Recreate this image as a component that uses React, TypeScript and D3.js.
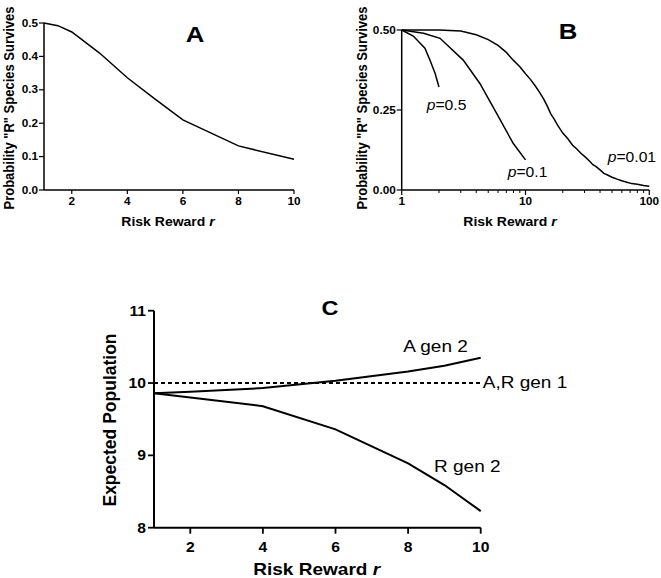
import React from "react";
import * as d3 from "d3";

// Panel A data
const rA = [1, 1.5, 2, 3, 4, 5, 6, 8, 10];
const probA = [0.5, 0.492, 0.473, 0.41, 0.336, 0.272, 0.21, 0.132, 0.092];
const ticksAx = [2, 4, 6, 8, 10];
const ticksAy = [0, 0.1, 0.2, 0.3, 0.4, 0.5];

// Panel B data
const rB05 = [1, 1.24, 1.54, 1.69, 1.86, 2];
const probB05 = [0.5, 0.481, 0.443, 0.406, 0.365, 0.322];
const rB01 = [1, 1.5, 2.04, 3.14, 4.28, 5.83, 7.95, 10];
const probB01 = [0.5, 0.49, 0.474, 0.406, 0.333, 0.24, 0.146, 0.094];
const rB001 = [1, 2, 3, 4, 5, 6, 7, 8, 9, 10, 11, 12, 13, 14, 15, 16, 17, 18, 20, 22, 24, 26, 28, 30, 33, 35, 37, 40, 43, 46, 50, 55, 60, 66, 72, 80, 90, 100];
const probB001 = [0.5, 0.5, 0.497, 0.485, 0.47, 0.452, 0.43, 0.405, 0.385, 0.363, 0.345, 0.325, 0.305, 0.285, 0.262, 0.238, 0.222, 0.205, 0.178, 0.16, 0.14, 0.128, 0.115, 0.105, 0.09, 0.079, 0.074, 0.063, 0.052, 0.047, 0.04, 0.034, 0.029, 0.024, 0.02, 0.018, 0.014, 0.012];
const ticksBx = [1, 10, 100];
const minorBx = [2, 3, 4, 5, 6, 7, 8, 9, 20, 30, 40, 50, 60, 70, 80, 90];
const ticksBy = [0, 0.25, 0.5];

// Panel C data
const rC = [1, 2, 4, 6, 8, 9, 10];
const aGen2 = [9.86, 9.88, 9.93, 10.03, 10.16, 10.24, 10.35];
const rGen2 = [9.86, 9.8, 9.68, 9.36, 8.89, 8.59, 8.23];
const gen1 = [10, 10];
const rGen1 = [1, 10];
const ticksCx = [2, 4, 6, 8, 10];
const ticksCy = [8, 9, 10, 11];

const FONT = "'Liberation Sans', Arial, sans-serif";
const SX = 1.12;

function T({ x, y, size, weight = "normal", anchor = "start", rotate, sx = SX, children }: any) {
  return (
    <text
      transform={`translate(${x},${y}) scale(${sx},1)${rotate ? ` rotate(${rotate})` : ""}`}
      fontSize={size}
      fontWeight={weight}
      fontFamily={FONT}
      textAnchor={anchor}
      fill="#000"
    >
      {children}
    </text>
  );
}

export default function App() {
  const xA = d3.scaleLinear().domain([1, 10]).range([44, 294]);
  const yA = d3.scaleLinear().domain([0, 0.5]).range([190, 23]);
  const xB = d3.scaleLog().domain([1, 100]).range([401.7, 649.3]);
  const yB = d3.scaleLinear().domain([0, 0.5]).range([190, 30]);
  const xC = d3.scaleLinear().domain([1, 10]).range([154, 480.7]);
  const yC = d3.scaleLinear().domain([8, 11]).range([527.7, 310.7]);

  const mk = (xs: any, ys: any, xv: number[], yv: number[]) =>
    d3.line<number>().x((_, i) => xs(xv[i])).y((d) => ys(d))(yv) as string;

  return (
    <svg width={661} height={578} style={{ position: "absolute", left: 0, top: 0, background: "#fff" }}>
      <rect width={661} height={578} fill="#fff" />
      {/* Panel A */}
      <g>
        <line x1={xA(1)} x2={xA(10)} y1={yA(0)} y2={yA(0)} stroke="#000" strokeWidth={1.5} />
        <line x1={xA(1)} x2={xA(1)} y1={yA(0)} y2={yA(0.5)} stroke="#000" strokeWidth={1.5} />
        {ticksAy.map((t) => (
          <g key={t}>
            <line x1={xA(1) - 5} x2={xA(1)} y1={yA(t)} y2={yA(t)} stroke="#000" strokeWidth={1.2} />
            <T x={xA(1) - 6} y={yA(t) + 3.6} size={10.5} weight="bold" anchor="end">{t.toFixed(1)}</T>
          </g>
        ))}
        {ticksAx.map((t) => (
          <g key={t}>
            <line x1={xA(t)} x2={xA(t)} y1={yA(0)} y2={yA(0) + 4} stroke="#000" strokeWidth={1.2} />
            <T x={xA(t)} y={205} size={10.5} weight="bold" anchor="middle">{t}</T>
          </g>
        ))}
        <path d={mk(xA, yA, rA, probA)} fill="none" stroke="#000" strokeWidth={1.5} />
        <T x={168} y={226} size={12.5} weight="bold" anchor="middle">
          Risk Reward <tspan fontStyle="italic">r</tspan>
        </T>
        <T x={14} y={108} size={13} weight="bold" anchor="middle" rotate={-90} sx={1.15}>
          Probability "R" Species Survives
        </T>
        <T x={195} y={42} size={23} weight="bold" anchor="middle">A</T>
      </g>

      {/* Panel B */}
      <g>
        <line x1={xB(1)} x2={xB(100)} y1={yB(0)} y2={yB(0)} stroke="#000" strokeWidth={1.5} />
        <line x1={xB(1)} x2={xB(1)} y1={yB(0)} y2={yB(0.5)} stroke="#000" strokeWidth={1.5} />
        {ticksBy.map((t) => (
          <g key={t}>
            <line x1={xB(1) - 5} x2={xB(1)} y1={yB(t)} y2={yB(t)} stroke="#000" strokeWidth={1.2} />
            <T x={xB(1) - 6} y={yB(t) + 3.6} size={10.5} weight="bold" anchor="end">{t.toFixed(2)}</T>
          </g>
        ))}
        {ticksBx.map((t) => (
          <g key={t}>
            <line x1={xB(t)} x2={xB(t)} y1={yB(0)} y2={yB(0) + 5} stroke="#000" strokeWidth={1.2} />
            <T x={xB(t)} y={205} size={10.5} weight="bold" anchor="middle">{t}</T>
          </g>
        ))}
        {minorBx.map((t) => (
          <line key={t} x1={xB(t)} x2={xB(t)} y1={yB(0)} y2={yB(0) + 3} stroke="#000" strokeWidth={1} />
        ))}
        <path d={mk(xB, yB, rB05, probB05)} fill="none" stroke="#000" strokeWidth={1.5} />
        <path d={mk(xB, yB, rB01, probB01)} fill="none" stroke="#000" strokeWidth={1.5} />
        <path d={mk(xB, yB, rB001, probB001)} fill="none" stroke="#000" strokeWidth={1.5} />
        <T x={426.7} y={110} size={14}>
          <tspan fontStyle="italic">p</tspan>=0.5
        </T>
        <T x={507.7} y={177} size={14}>
          <tspan fontStyle="italic">p</tspan>=0.1
        </T>
        <T x={607.7} y={162} size={14}>
          <tspan fontStyle="italic">p</tspan>=0.01
        </T>
        <T x={510} y={226} size={12.5} weight="bold" anchor="middle">
          Risk Reward <tspan fontStyle="italic">r</tspan>
        </T>
        <T x={367} y={108} size={13} weight="bold" anchor="middle" rotate={-90} sx={1.15}>
          Probability "R" Species Survives
        </T>
        <T x={568} y={39} size={23} weight="bold" anchor="middle">B</T>
      </g>

      {/* Panel C */}
      <g>
        <line x1={xC(1)} x2={xC(10)} y1={yC(8)} y2={yC(8)} stroke="#000" strokeWidth={2} />
        <line x1={xC(1)} x2={xC(1)} y1={yC(8)} y2={yC(11)} stroke="#000" strokeWidth={2} />
        {ticksCy.map((t) => (
          <g key={t}>
            <line x1={xC(1) - 6} x2={xC(1)} y1={yC(t)} y2={yC(t)} stroke="#000" strokeWidth={1.8} />
            <T x={xC(1) - 8} y={yC(t) + 5} size={14} weight="bold" anchor="end">{t}</T>
          </g>
        ))}
        {ticksCx.map((t) => (
          <g key={t}>
            <line x1={xC(t)} x2={xC(t)} y1={yC(8)} y2={yC(8) + 6} stroke="#000" strokeWidth={1.8} />
            <T x={xC(t)} y={551.5} size={14} weight="bold" anchor="middle">{t}</T>
          </g>
        ))}
        <path d={mk(xC, yC, rGen1, gen1)} fill="none" stroke="#000" strokeWidth={2} strokeDasharray="4,3" />
        <path d={mk(xC, yC, rC, aGen2)} fill="none" stroke="#000" strokeWidth={2} />
        <path d={mk(xC, yC, rC, rGen2)} fill="none" stroke="#000" strokeWidth={2} />
        <T x={403.3} y={351.7} size={17}>A gen 2</T>
        <T x={482.7} y={388.3} size={17}>A,R gen 1</T>
        <T x={434} y={471.7} size={17}>R gen 2</T>
        <T x={316.7} y={574.5} size={17} weight="bold" anchor="middle">
          Risk Reward <tspan fontStyle="italic">r</tspan>
        </T>
        <T x={116} y={420} size={17.5} weight="bold" anchor="middle" rotate={-90} sx={1}>
          Expected Population
        </T>
        <T x={330} y={315} size={21} weight="bold" anchor="middle">C</T>
      </g>
    </svg>
  );
}
